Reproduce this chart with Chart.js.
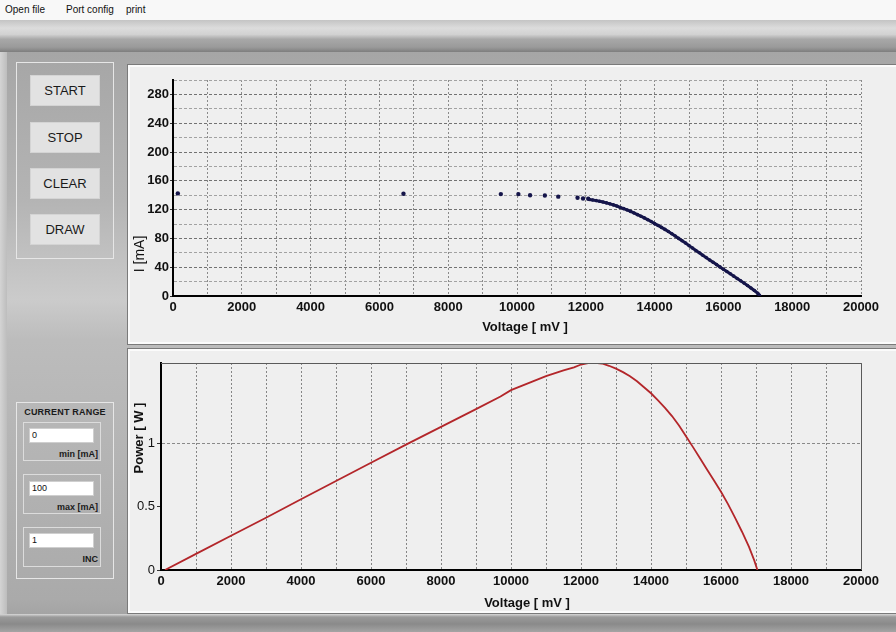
<!DOCTYPE html>
<html>
<head>
<meta charset="utf-8">
<script src="https://cdn.jsdelivr.net/npm/chart.js@4"></script>
<style>
html,body{margin:0;padding:0;}
body{width:896px;height:632px;position:relative;overflow:hidden;font-family:Arial,"Liberation Sans",sans-serif;
 background:linear-gradient(to bottom,#a6a6a6 0px,#a6a6a6 52px,#b4b4b4 200px,#cbcbcb 300px,#bcbcbc 340px,#aaaaaa 600px,#9c9c9c 632px);}
#menu{position:absolute;left:0;top:0;width:896px;height:20px;background:#f8f8f8;font-size:10px;color:#111;}
#menu span{position:absolute;top:4px;}
#toolbar{position:absolute;left:0;top:20px;width:896px;height:32px;
 background:linear-gradient(to bottom,#c4c4c4 0%,#dcdcdc 25%,#d2d2d2 45%,#a8a8a8 60%,#9a9a9a 85%,#7e7e7e 100%);}
#strip{position:absolute;left:0;top:52px;width:7px;height:562px;background:linear-gradient(to right,#d4d4d4,#bdbdbd);}
.panel{position:absolute;left:127px;width:769px;background:#efefef;border-top:1px solid #7a7a7a;border-left:1px solid #7a7a7a;border-bottom:1px solid #7a7a7a;box-shadow:inset 2px 2px 0 #fbfbfb, inset 0 -2px 0 #fbfbfb;box-sizing:border-box;}
#p1{top:64px;height:281px;}
#p2{top:348px;height:266px;}
#bottombar{position:absolute;left:0;top:614px;width:896px;height:18px;background:linear-gradient(to bottom,#d8d8d8 0px,#9a9a9a 3px,#8a8a8a 10px,#a4a4a4 18px);}
canvas{position:absolute;}
#c1{left:130px;top:68px;}
#c2{left:130px;top:352px;}
.box{position:absolute;border:1px solid #e6e6e6;box-sizing:border-box;}
.btn{position:absolute;left:30px;width:70px;height:31px;background:#e2e2e2;border:1px solid #d4d4d4;box-sizing:border-box;text-align:center;line-height:29px;font-size:13px;color:#1a1a1a;}
.sub{position:absolute;left:23px;width:78px;border:1px solid #dcdcdc;box-sizing:border-box;}
.inp{position:absolute;left:29px;width:65px;height:15px;background:#fff;border:1px solid #cfcfcf;box-sizing:border-box;font-size:9px;line-height:13px;padding-left:2px;color:#111;}
.lbl{position:absolute;right:798px;font-size:9px;font-weight:bold;color:#1a1a1a;white-space:nowrap;}
</style>
</head>
<body>
<div id="menu"><span style="left:5px">Open file</span><span style="left:66px">Port config</span><span style="left:126px">print</span></div>
<div id="toolbar"></div>
<div id="strip"></div>

<div class="box" style="left:16px;top:62px;width:98px;height:197px;"></div>
<div class="btn" style="top:75px;">START</div>
<div class="btn" style="top:122px;">STOP</div>
<div class="btn" style="top:168px;">CLEAR</div>
<div class="btn" style="top:214px;">DRAW</div>

<div class="box" style="left:16px;top:402px;width:98px;height:177px;"></div>
<div style="position:absolute;left:16px;top:407px;width:98px;text-align:center;font-size:9px;font-weight:bold;color:#1a1a1a;letter-spacing:0.2px;">CURRENT RANGE</div>
<div class="sub" style="top:422px;height:39px;"></div>
<div class="inp" style="top:428px;">0</div>
<div class="lbl" style="top:449px;">min [mA]</div>
<div class="sub" style="top:474px;height:40px;"></div>
<div class="inp" style="top:481px;">100</div>
<div class="lbl" style="top:502px;">max [mA]</div>
<div class="sub" style="top:527px;height:40px;"></div>
<div class="inp" style="top:533px;">1</div>
<div class="lbl" style="top:554px;">INC</div>

<div class="panel" id="p1"></div>
<div class="panel" id="p2"></div>
<div id="bottombar"></div>

<canvas id="c1" width="766" height="275"></canvas>
<canvas id="c2" width="766" height="260"></canvas>

<script>
// ---- data ----
// I-V measurement: sparse points at low voltage
const voltSparse = [140, 6700, 9530, 10040, 10380, 10810, 11200, 11760, 11920, 12070];
const currSparse = [142.5, 142, 141.5, 141.5, 140, 139.5, 138, 136.5, 135.5, 135];
// I-V measurement: dense part of the curve (mV, mA)
const voltCurve = [12100, 12200, 12300, 12400, 12500, 12600, 12700, 12800, 12900, 13000,
  13100, 13200, 13300, 13400, 13500, 13600, 13700, 13800, 13900, 14000,
  14100, 14200, 14300, 14400, 14500, 14600, 14700, 14800, 14900, 15000,
  15100, 15200, 15300, 15400, 15500, 15600, 15700, 15800, 15900, 16000,
  16100, 16200, 16300, 16400, 16500, 16600, 16700, 16800, 16900, 17000, 17050];
const currCurve = [134, 133.3, 132.5, 131.5, 130.5, 129.3, 128, 126.5, 125, 123,
  121.3, 119.5, 117.5, 115.3, 113, 110.8, 108.5, 106, 103.5, 100.5,
  98, 95.3, 92.5, 89.5, 86.5, 83.3, 80, 76.8, 73.5, 70,
  66.6, 63.2, 60, 56.6, 53.3, 50, 46.8, 43.6, 40.4, 37.2,
  34, 30.8, 27.6, 24.4, 21.2, 17.9, 14.6, 11.2, 7.6, 3.6, 1];
// P-V curve (mV, W)
const voltPower = [114, 1000, 2000, 3000, 4000, 5000, 6000, 7000, 8000, 9000, 9700, 10000, 10500,
  11000, 11500, 11800, 12000, 12200, 12400, 12600, 12800, 13000, 13200, 13400, 13600, 13800,
  14000, 14200, 14400, 14600, 14800, 15000, 15200, 15400, 15600, 15800, 16000, 16200, 16400,
  16600, 16800, 16950, 17040];
const powerW = [0, 0.127, 0.27, 0.412, 0.558, 0.703, 0.847, 0.99, 1.13, 1.27, 1.37, 1.42, 1.475,
  1.53, 1.575, 1.60, 1.622, 1.634, 1.636, 1.63, 1.612, 1.59, 1.562, 1.53, 1.49, 1.443,
  1.395, 1.338, 1.28, 1.215, 1.14, 1.055, 0.97, 0.882, 0.794, 0.706, 0.618, 0.52, 0.413,
  0.302, 0.182, 0.076, 0];
// tick labels
const xTickLabels = [0, 2000, 4000, 6000, 8000, 10000, 12000, 14000, 16000, 18000, 20000];
const yTickLabelsI = [0, 40, 80, 120, 160, 200, 240, 280];
const yTickLabelsP = [0, 0.5, 1];

// ---- helpers ----
const pts = (xs, ys) => xs.map((x, i) => ({x: x, y: ys[i]}));
const tickFont = {family: 'Arial, "Liberation Sans", sans-serif', size: 13, weight: 'bold'};

const titlePlugin = {
  id: 'axisTitles',
  afterDraw(chart, args, opts) {
    const ctx = chart.ctx;
    (opts.items || []).forEach(t => {
      ctx.save();
      ctx.fillStyle = '#111';
      ctx.font = t.font;
      ctx.textAlign = 'center';
      ctx.textBaseline = 'middle';
      ctx.translate(t.x, t.y);
      if (t.rot) ctx.rotate(-Math.PI / 2);
      ctx.fillText(t.text, 0, 0);
      ctx.restore();
    });
  }
};
const framePlugin = {
  id: 'frame',
  afterDraw(chart, args, opts) {
    if (!opts.draw) return;
    const a = chart.chartArea, ctx = chart.ctx;
    ctx.save();
    ctx.strokeStyle = '#5a5a5a';
    ctx.lineWidth = 1;
    ctx.beginPath();
    ctx.moveTo(a.left, a.top + 0.5);
    ctx.lineTo(a.right + 0.5, a.top + 0.5);
    ctx.lineTo(a.right + 0.5, a.bottom);
    ctx.stroke();
    ctx.restore();
  }
};

// ---- top chart: current vs voltage ----
new Chart(document.getElementById('c1'), {
  type: 'scatter',
  data: {
    datasets: [
      {data: pts(voltSparse, currSparse), showLine: false, pointRadius: 2.2, pointBorderWidth: 0,
       backgroundColor: '#15154a', borderColor: '#15154a'},
      {data: pts(voltCurve, currCurve), showLine: true, borderWidth: 3, pointRadius: 1.8, pointBorderWidth: 0,
       backgroundColor: '#15154a', borderColor: '#15154a'}
    ]
  },
  plugins: [titlePlugin, framePlugin],
  options: {
    responsive: false, animation: false, devicePixelRatio: 1,
    layout: {padding: {top: 12, right: 35, left: 0, bottom: 0}},
    plugins: {
      legend: {display: false}, tooltip: {enabled: false},
      frame: {draw: false},
      axisTitles: {items: [
        {text: 'Voltage [ mV ]', x: 395, y: 259, font: 'bold 13px Arial, "Liberation Sans", sans-serif'},
        {text: 'I [mA]', x: 10, y: 186, rot: true, font: '14px Arial, "Liberation Sans", sans-serif'}
      ]}
    },
    scales: {
      x: {
        type: 'linear', min: 0, max: 20000,
        afterFit: s => { s.height = 47; },
        ticks: {stepSize: 1000, autoSkip: false, maxRotation: 0, padding: 4, color: '#111', font: tickFont,
                callback: v => xTickLabels.includes(v) ? String(v) : ''},
        grid: {color: '#8a8a8a', lineWidth: 1, drawTicks: false},
        border: {display: true, color: '#000', width: 2, dash: [2, 2]}
      },
      y: {
        type: 'linear', min: 0, max: 300,
        afterFit: s => { s.width = 43; },
        ticks: {stepSize: 20, autoSkip: false, padding: 1, color: '#111', font: tickFont,
                callback: v => yTickLabelsI.includes(v) ? String(v) : ''},
        grid: {color: c => (c.tick && c.tick.value % 40 === 0) ? '#727272' : '#a2a2a2',
               lineWidth: 1, drawTicks: true, tickLength: 3,
               tickColor: c => (c.tick && yTickLabelsI.includes(c.tick.value)) ? '#333' : 'rgba(0,0,0,0)'},
        border: {display: true, color: '#000', width: 2, dash: [3, 2]}
      }
    }
  }
});

// ---- bottom chart: power vs voltage ----
new Chart(document.getElementById('c2'), {
  type: 'scatter',
  data: {
    datasets: [
      {data: pts(voltPower, powerW), showLine: true, borderWidth: 1.8, pointRadius: 0,
       borderColor: '#b3262a', backgroundColor: '#b3262a'}
    ]
  },
  plugins: [titlePlugin, framePlugin],
  options: {
    responsive: false, animation: false, devicePixelRatio: 1,
    layout: {padding: {top: 11, right: 35, left: 0, bottom: 0}},
    plugins: {
      legend: {display: false}, tooltip: {enabled: false},
      frame: {draw: true},
      axisTitles: {items: [
        {text: 'Voltage [ mV ]', x: 397, y: 251, font: 'bold 13px Arial, "Liberation Sans", sans-serif'},
        {text: 'Power [ W ]', x: 9, y: 86, rot: true, font: 'bold 13px Arial, "Liberation Sans", sans-serif'}
      ]}
    },
    scales: {
      x: {
        type: 'linear', min: 0, max: 20000,
        afterFit: s => { s.height = 42; },
        ticks: {stepSize: 1000, autoSkip: false, maxRotation: 0, padding: 4, color: '#111', font: tickFont,
                callback: v => xTickLabels.includes(v) ? String(v) : ''},
        grid: {color: '#858585', lineWidth: 1, drawTicks: false},
        border: {display: true, color: '#000', width: 2, dash: [2, 2]}
      },
      y: {
        type: 'linear', min: 0, max: 1.634,
        afterFit: s => { s.width = 31; },
        afterBuildTicks: s => { s.ticks = yTickLabelsP.map(v => ({value: v})); },
        ticks: {autoSkip: false, padding: 2, color: '#111',
                font: {family: 'Arial, "Liberation Sans", sans-serif', size: 13},
                callback: v => String(v)},
        grid: {color: c => (c.tick && c.tick.value === 1) ? '#8a8a8a' : 'rgba(0,0,0,0)',
               lineWidth: 1, drawTicks: true, tickLength: 4, tickColor: '#333'},
        border: {display: true, color: '#000', width: 2, dash: [3, 2]}
      }
    }
  }
});
</script>
</body>
</html>
